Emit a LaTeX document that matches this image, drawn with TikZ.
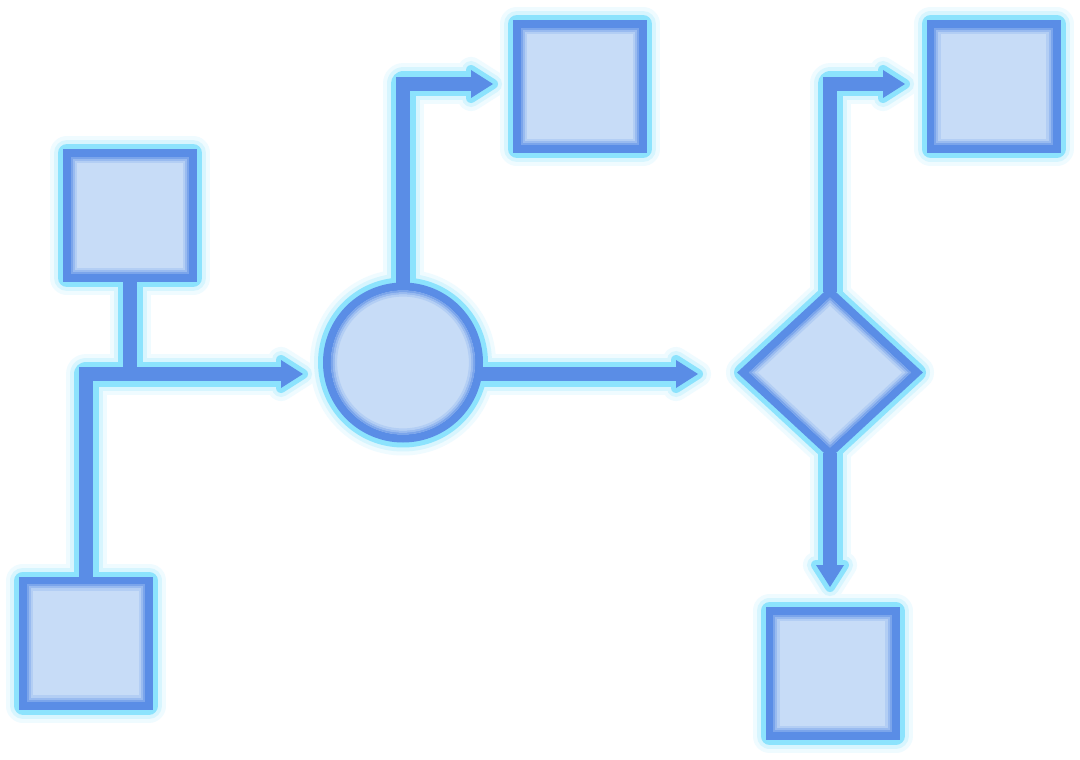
\documentclass[tikz,border=0pt]{standalone}
\usetikzlibrary{shapes.geometric,calc}
\definecolor{fillc}{HTML}{C7DCF7}
\definecolor{bluec}{HTML}{5A8DE6}
\definecolor{cyanc}{HTML}{8CE3FD}
\colorlet{glowA}{cyanc!14!white}
\colorlet{glowB}{cyanc!35!white}
\pgfdeclarelayer{bg}\pgfdeclarelayer{gA}\pgfdeclarelayer{gB}\pgfdeclarelayer{hal}\pgfdeclarelayer{lin}
\pgfsetlayers{bg,gA,gB,hal,lin,main}
\tikzset{
  shp/.style={draw=bluec, fill=fillc, line width=8pt, outer sep=0pt, inner sep=0pt},
  sq/.style={shp, rectangle, minimum width=126pt, minimum height=125pt},
  inA/.style={draw=bluec!70!fillc, line width=2.2pt},
  inB/.style={draw=bluec!42!fillc, line width=2.2pt},
  inC/.style={draw=bluec!18!fillc, line width=2.2pt},
}
% halo around a shape outline
\newcommand\shapehalo[1]{%
  \begin{pgfonlayer}{gA}\draw[glowA,line width=34pt,line join=round] #1;\end{pgfonlayer}
  \begin{pgfonlayer}{gB}\draw[glowB,line width=26pt,line join=round] #1;\end{pgfonlayer}
  \begin{pgfonlayer}{hal}\draw[cyanc,line width=18pt,line join=round] #1;\end{pgfonlayer}}
% connector with halo
\newcommand\conn[2][]{%
  \begin{pgfonlayer}{gA}\draw[glowA,line width=41pt,line join=round,#1] #2;\end{pgfonlayer}
  \begin{pgfonlayer}{gB}\draw[glowB,line width=33pt,line join=round,#1] #2;\end{pgfonlayer}
  \begin{pgfonlayer}{hal}\draw[cyanc,line width=25pt,line join=round,#1] #2;\end{pgfonlayer}
  \begin{pgfonlayer}{lin}\draw[bluec,line width=14pt,#1] #2;\end{pgfonlayer}}
% arrow head at tip #1, rotated by #2
\newcommand\head[2]{%
  \begin{scope}[shift={(#1)},rotate=#2]
  \begin{pgfonlayer}{gA}\filldraw[glowA,line width=26pt,line join=round] (0,0)--(-22,-14)--(-22,14)--cycle;\end{pgfonlayer}
  \begin{pgfonlayer}{gB}\filldraw[glowB,line width=18pt,line join=round] (0,0)--(-22,-14)--(-22,14)--cycle;\end{pgfonlayer}
  \begin{pgfonlayer}{hal}\filldraw[cyanc,line width=10pt,line join=round] (0,0)--(-22,-14)--(-22,14)--cycle;\end{pgfonlayer}
  \begin{pgfonlayer}{lin}\fill[bluec] (0,0)--(-22,-14)--(-22,14)--cycle;\end{pgfonlayer}
  \end{scope}}
\newcommand\boxinset[1]{%
  \draw[inA] ($(#1.north west)+(5,5)$) rectangle ($(#1.south east)+(-5,-5)$);
  \draw[inB] ($(#1.north west)+(7,7)$) rectangle ($(#1.south east)+(-7,-7)$);
  \draw[inC] ($(#1.north west)+(9,9)$) rectangle ($(#1.south east)+(-9,-9)$);}
\begin{document}
\begin{tikzpicture}[x=1pt,y=-1pt]
\begin{pgfonlayer}{bg}\fill[white] (0,0) rectangle (1080,760);\end{pgfonlayer}
\useasboundingbox (0,0) rectangle (1080,760);
% shapes
\node[sq] (A) at (130,215.5) {};
\node[sq] (B) at (86,643) {};
\node[sq] (C) at (580,86.5) {};
\node[sq] (D) at (993.5,86.5) {};
\node[sq] (E) at (832.5,673.5) {};
\node[shp, circle, minimum size=152pt] (O) at (403,362.5) {};
\node[shp, diamond, minimum width=174pt, minimum height=161pt] (Q) at (830,372.5) {};
% inner soft edges
\boxinset{A}\boxinset{B}\boxinset{C}\boxinset{D}\boxinset{E}
\draw[inA] (O) circle[radius=71pt];
\draw[inB] (O) circle[radius=69pt];
\draw[inC] (O) circle[radius=67pt];
\draw[inA] ($(Q)!0.915!(Q.north)$) -- ($(Q)!0.915!(Q.east)$) -- ($(Q)!0.915!(Q.south)$) -- ($(Q)!0.915!(Q.west)$) -- cycle;
\draw[inB] ($(Q)!0.881!(Q.north)$) -- ($(Q)!0.881!(Q.east)$) -- ($(Q)!0.881!(Q.south)$) -- ($(Q)!0.881!(Q.west)$) -- cycle;
\draw[inC] ($(Q)!0.848!(Q.north)$) -- ($(Q)!0.848!(Q.east)$) -- ($(Q)!0.848!(Q.south)$) -- ($(Q)!0.848!(Q.west)$) -- cycle;
% halos of shapes
\foreach \n in {A,B,C,D,E}{\shapehalo{(\n.north west) rectangle (\n.south east)}}
\shapehalo{(O) circle[radius=76pt]}
\shapehalo{(Q.north) -- (Q.east) -- (Q.south) -- (Q.west) -- cycle}
% arrow tips
\coordinate (t1) at (303,374);
\coordinate (t2) at (493,84);
\coordinate (t3) at (698,374);
\coordinate (t4) at (905,84);
\coordinate (t5) at (830,587);
% connectors
\conn{(A.south) -- (A.south |- t1)}
\conn[shorten >=21pt]{(B.north) |- (t1)}
\conn[shorten >=21pt]{(O.north) |- (t2)}
\conn[shorten >=21pt]{(O |- t3) -- (t3)}
\conn[shorten >=21pt]{(Q.north) |- (t4)}
\conn[shorten >=21pt]{(Q.south) -- (t5)}
\head{t1}{0}\head{t2}{0}\head{t3}{0}\head{t4}{0}\head{t5}{-90}
\end{tikzpicture}
\end{document}
